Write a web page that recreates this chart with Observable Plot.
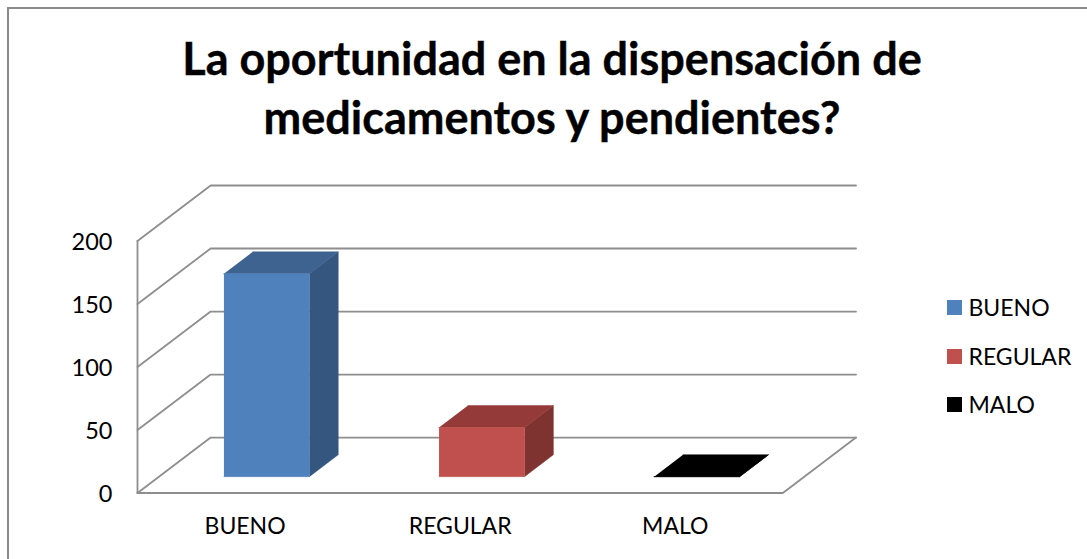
<!DOCTYPE html>
<html lang="es">
<head>
<meta charset="utf-8">
<script src="https://cdn.jsdelivr.net/npm/d3@7"></script>
<script src="https://cdn.jsdelivr.net/npm/@observablehq/plot@0.6"></script>
<style>
  html, body { margin: 0; padding: 0; background: #fff; overflow: hidden; }
  #page { position: relative; width: 1087px; height: 559px; overflow: hidden; font-family: Lato, sans-serif; color: #000; }
  #frame { position: absolute; left: 6.5px; top: 6.5px; width: 1200px; height: 700px; border: 2px solid #8a8a8a; box-sizing: border-box; }
  #title { position: absolute; left: 0; top: 29px; width: 1104px; margin: 0; text-align: center; font-size: 45px; line-height: 59px; font-weight: 700; -webkit-text-stroke: 0.4px #000; }
  #chart { position: absolute; left: 0; top: 170px; }
  #chart svg { display: block; background: transparent; }
  #legend { position: absolute; left: 947px; top: 290px; font-size: 23px; }
  .item { position: absolute; left: 0; white-space: nowrap; height: 34px; line-height: 34px; }
  .item i { position: absolute; left: 0; top: 10px; width: 15px; height: 15px; }
  .item span { position: absolute; left: 21.5px; top: 0; }
</style>
</head>
<body>
<div id="page">
  <div id="frame"></div>
  <h1 id="title">La oportunidad en la dispensación de<br>medicamentos y pendientes?</h1>
  <div id="chart"></div>
  <div id="legend"></div>
</div>
<script>
const categories = ["BUENO", "REGULAR", "MALO"];
const values = [161, 39, 0];
const yTicks = [0, 50, 100, 150, 200];
const frontColors = ["#4f81bd", "#c0504d", "#000000"];
const sideColors = ["#34567f", "#7f3331", "#000000"];
const topColors = ["#3e6390", "#943a38", "#000000"];

// Oblique projection: a point at depth d (0 front, 1 back) is moved along both scales.
const shiftX = 0.34;
const shiftY = 44;
const px = (c, d) => c + d * shiftX;
const py = (v, d) => v + d * shiftY;
const pt = (c, v, d) => ({x: px(c, d), y: py(v, d)});

const gridLines = yTicks.map((v) => [pt(0, v, 0), pt(0, v, 1), pt(3, v, 1)]);
const floorEdge = [pt(0, 0, 0), pt(3, 0, 0), pt(3, 0, 1)];
const leftEdge = [pt(0, 0, 0), pt(0, 200, 0)];

const barWidth = 0.397, d0 = 0.295, d1 = 0.69;
const faces = [];
values.forEach((v, i) => {
  const l = i + 0.5 - barWidth / 2, r = i + 0.5 + barWidth / 2;
  faces.push({pts: [pt(r, 0, d0), pt(r, 0, d1), pt(r, v, d1), pt(r, v, d0)], fill: sideColors[i]});
  faces.push({pts: [pt(l, v, d0), pt(r, v, d0), pt(r, v, d1), pt(l, v, d1)], fill: topColors[i]});
  faces.push({pts: [pt(l, 0, d0), pt(r, 0, d0), pt(r, v, d0), pt(l, v, d0)], fill: frontColors[i]});
});

const gray = "#8e8e8e";
const chart = Plot.plot({
  width: 925,
  height: 389,
  marginLeft: 137,
  marginRight: 69.5,
  marginTop: 15,
  marginBottom: 66.5,
  style: {fontFamily: "Lato, sans-serif", fontSize: "23px", color: "#000", background: "transparent"},
  x: {domain: [0, 3 + shiftX]},
  y: {domain: [0, 200 + shiftY]},
  marks: [
    ...gridLines.map((g) => Plot.line(g, {x: "x", y: "y", stroke: gray, strokeWidth: 1.8})),
    Plot.line(floorEdge, {x: "x", y: "y", stroke: gray, strokeWidth: 1.8}),
    Plot.line(leftEdge, {x: "x", y: "y", stroke: gray, strokeWidth: 1.8}),
    ...faces.map((f) => Plot.line(f.pts, {x: "x", y: "y", fill: f.fill, stroke: f.fill, strokeWidth: 0.5})),
    Plot.axisY({anchor: "left", ticks: yTicks, tickSize: 0, tickPadding: 25, label: null, fontSize: 23.5, dy: 1.5}),
    Plot.axisX({anchor: "bottom", ticks: [0.5, 1.5, 2.5], tickFormat: (d) => categories[d - 0.5], tickSize: 0, tickPadding: 25, label: null, fontSize: 23})
  ]
});
document.getElementById("chart").append(chart);

const legend = document.getElementById("legend");
categories.forEach((c, i) => {
  const item = document.createElement("div");
  item.className = "item";
  item.style.top = (i * 48.5) + "px";
  item.innerHTML = `<i style="background:${frontColors[i]}"></i><span>${c}</span>`;
  legend.append(item);
});
</script>
</body>
</html>
